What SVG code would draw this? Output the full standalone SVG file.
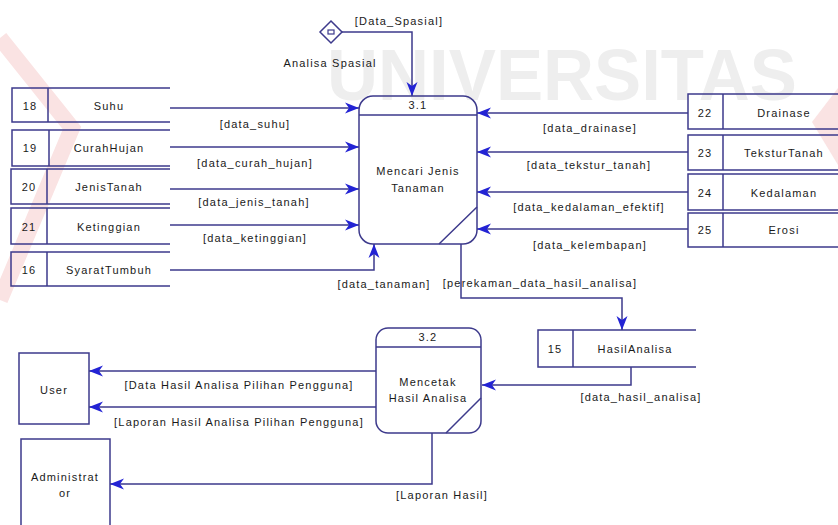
<svg xmlns="http://www.w3.org/2000/svg" width="838" height="525" viewBox="0 0 838 525">
<style>
.wm{font-family:"Liberation Sans",Arial,sans-serif;font-weight:bold;fill:#eeeeee}
.ln{fill:none;stroke:#3d3a8c;stroke-width:1.5}
.box{fill:#ffffff;stroke:#3d3a8c;stroke-width:1.5}
.t{font-family:"Liberation Sans",Arial,sans-serif;font-size:11px;letter-spacing:1.2px;fill:#1a1a1a;text-anchor:middle}
.c{fill:none;stroke:#3d3a8c;stroke-width:1.5;marker-end:url(#arr)}
</style>
<defs>
<marker id="arr" markerUnits="userSpaceOnUse" markerWidth="15" markerHeight="12" refX="14" refY="6" orient="auto" overflow="visible">
<path d="M14,6 L0,0.5 L4,6 L0,11.5 Z" fill="#2323d4"/>
</marker>
</defs>
<rect width="838" height="525" fill="#ffffff"/>
<g id="watermark">
<polyline points="0,38 72,128 0,300" fill="none" stroke="#fae3e3" stroke-width="16"/>
<polygon points="812,122 838,88 838,165" fill="#fae3e3"/>
<text class="wm" x="327" y="100" font-size="72" textLength="470" lengthAdjust="spacingAndGlyphs">UNIVERSITAS</text>
</g>
<g id="connectors">
<path class="c" d="M342,32 H412 V96"/>
<path class="c" d="M170,108 H359"/>
<path class="c" d="M170,147 H359"/>
<path class="c" d="M170,189 H359"/>
<path class="c" d="M170,225 H359"/>
<path class="c" d="M170,270 H374 V244"/>
<path class="c" d="M688,113 H477"/>
<path class="c" d="M688,152 H477"/>
<path class="c" d="M688,192 H477"/>
<path class="c" d="M688,229 H477"/>
<path class="c" d="M461,244 V298 H622 V330"/>
<path class="c" d="M631,367 V385 H482"/>
<path class="c" d="M376,371 H89"/>
<path class="c" d="M376,407 H89"/>
<path class="c" d="M432,433 V484 H110"/>
<text class="t" x="399" y="25">[Data_Spasial]</text>
<text class="t" x="255" y="128">[data_suhu]</text>
<text class="t" x="255" y="167">[data_curah_hujan]</text>
<text class="t" x="254" y="206">[data_jenis_tanah]</text>
<text class="t" x="255" y="242">[data_ketinggian]</text>
<text class="t" x="384" y="288">[data_tanaman]</text>
<text class="t" x="540" y="287">[perekaman_data_hasil_analisa]</text>
<text class="t" x="590" y="132">[data_drainase]</text>
<text class="t" x="589" y="169">[data_tekstur_tanah]</text>
<text class="t" x="589" y="211">[data_kedalaman_efektif]</text>
<text class="t" x="590" y="249">[data_kelembapan]</text>
<text class="t" x="641" y="401">[data_hasil_analisa]</text>
<text class="t" x="239" y="389">[Data Hasil Analisa Pilihan Pengguna]</text>
<text class="t" x="239" y="426">[Laporan Hasil Analisa Pilihan Pengguna]</text>
<text class="t" x="442" y="499">[Laporan Hasil]</text>
</g>
<g id="analisa-spasial">
<path d="M331,21 L342,32 L331,43 L320,32 Z" class="box"/>
<rect x="328" y="30" width="6" height="4" fill="none" stroke="#3d3a8c" stroke-width="1.2"/>
<text class="t" x="330" y="67">Analisa Spasial</text>
</g>
<g id="store-18">
<path class="ln" d="M170,88 H12 V122 H170 M48,88 V122"/>
<text class="t" x="30" y="110">18</text>
<text class="t" x="109" y="110">Suhu</text>
</g>
<g id="store-19">
<path class="ln" d="M170,130 H12 V166 H170 M49,130 V166"/>
<text class="t" x="30" y="152">19</text>
<text class="t" x="109" y="152">CurahHujan</text>
</g>
<g id="store-20">
<path class="ln" d="M170,169 H11 V204 H170 M47,169 V204"/>
<text class="t" x="29" y="191">20</text>
<text class="t" x="109" y="191">JenisTanah</text>
</g>
<g id="store-21">
<path class="ln" d="M170,208 H11 V244 H170 M47,208 V244"/>
<text class="t" x="29" y="231">21</text>
<text class="t" x="109" y="231">Ketinggian</text>
</g>
<g id="store-16">
<path class="ln" d="M170,252 H11 V286 H170 M47,252 V286"/>
<text class="t" x="29" y="274">16</text>
<text class="t" x="109" y="274">SyaratTumbuh</text>
</g>
<g id="store-22">
<path class="ln" d="M838,94 H688 V129 H838 M723,94 V129"/>
<text class="t" x="705" y="117">22</text>
<text class="t" x="784" y="117">Drainase</text>
</g>
<g id="store-23">
<path class="ln" d="M838,135 H688 V170 H838 M723,135 V170"/>
<text class="t" x="705" y="157">23</text>
<text class="t" x="784" y="157">TeksturTanah</text>
</g>
<g id="store-24">
<path class="ln" d="M838,174 H688 V210 H838 M723,174 V210"/>
<text class="t" x="705" y="197">24</text>
<text class="t" x="784" y="197">Kedalaman</text>
</g>
<g id="store-25">
<path class="ln" d="M838,213 H688 V247 H838 M723,213 V247"/>
<text class="t" x="705" y="234">25</text>
<text class="t" x="784" y="234">Erosi</text>
</g>
<g id="store-15">
<path class="ln" d="M696,330 H538 V367 H696 M573,330 V367"/>
<text class="t" x="555" y="353">15</text>
<text class="t" x="635" y="353">HasilAnalisa</text>
</g>
<g id="process-3-1">
<rect class="box" x="359" y="96" width="118" height="148" rx="14" ry="14" fill-opacity="0"/>
<path class="ln" d="M359,115 H477 M439,244 L477,207"/>
<text class="t" x="418" y="109">3.1</text>
<text class="t" x="418" y="175">Mencari Jenis</text>
<text class="t" x="418" y="192">Tanaman</text>
</g>
<g id="process-3-2">
<rect class="box" x="376" y="328" width="105" height="105" rx="12" ry="12" fill-opacity="0"/>
<path class="ln" d="M376,347 H481 M446,433 L481,398"/>
<text class="t" x="428" y="341">3.2</text>
<text class="t" x="428" y="386">Mencetak</text>
<text class="t" x="428" y="402">Hasil Analisa</text>
</g>
<g id="user">
<rect class="box" x="19" y="353" width="70" height="71" fill-opacity="0"/>
<text class="t" x="54" y="394">User</text>
</g>
<g id="administrator">
<rect class="box" x="21" y="439" width="89" height="95" fill-opacity="0"/>
<text class="t" x="65" y="481">Administrat</text>
<text class="t" x="65" y="497">or</text>
</g>
</svg>
